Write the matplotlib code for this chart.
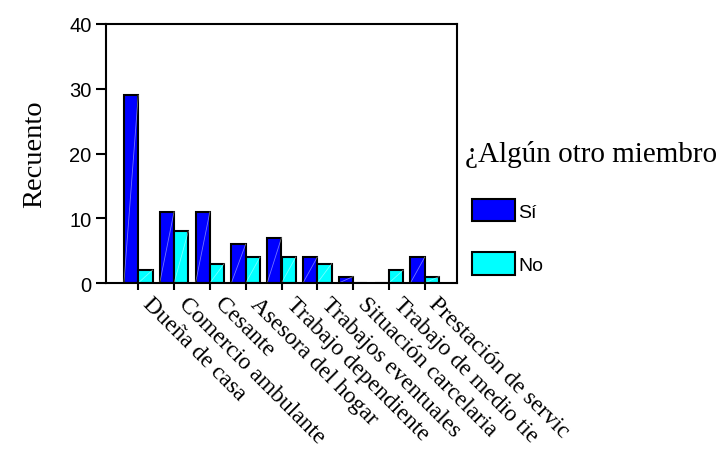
import matplotlib
matplotlib.use("Agg")
import matplotlib.pyplot as plt
import matplotlib.transforms as mtransforms
import numpy as np
from matplotlib.patches import Patch

categories = ["Dueña de casa", "Comercio ambulante", "Cesante", "Asesora del hogar",
              "Trabajo dependiente", "Trabajos eventuales", "Situación carcelaria",
              "Trabajo de medio tie", "Prestación de servic"]
si_values = [29, 11, 11, 6, 7, 4, 1, 0, 4]
no_values = [2, 8, 3, 4, 4, 3, 0, 2, 1]
series_labels = ["Sí", "No"]
yticks = [0, 10, 20, 30, 40]
legend_title = "¿Algún otro miembro"
ylabel = "Recuento"

SERIF = "Liberation Serif"
SANS = "Liberation Sans"
c_si = "#0000ff"
c_no = "#00ffff"

fig = plt.figure(figsize=(7.2, 4.56), dpi=100)
ax = fig.add_axes([106/720, 1-284/456, (457-106)/720, (284-25)/456])

x = np.arange(len(categories))
w = 0.4
b1 = ax.bar(x - w/2, si_values, width=w, color=c_si, edgecolor="black", linewidth=1.5)
b2 = ax.bar(x + w/2, no_values, width=w, color=c_no, edgecolor="black", linewidth=1.5)
# faint diagonal sheen inside each bar (as in the original rendering)
for rect in list(b1) + list(b2):
    h = rect.get_height()
    if h > 0:
        x0 = rect.get_x()
        ax.plot([x0, x0 + rect.get_width()], [0, h], color="white",
                lw=0.6, alpha=0.45, zorder=rect.get_zorder() + 0.1)

ax.set_xlim(-0.9, 8.9)
ax.set_ylim(0, 40)
ax.tick_params(axis="y", direction="out", length=7.5, width=1.5, color="black", pad=3)
ax.tick_params(axis="x", direction="out", length=5, width=1.5, color="black", pad=2)
ax.set_yticks(yticks)
ax.set_yticklabels([str(v) for v in yticks], fontfamily=SANS, fontsize=14.5)
ax.set_xticks(x)
ax.set_xticklabels(categories, rotation=-45, ha="left", va="top",
                   rotation_mode="anchor", fontfamily=SERIF, fontsize=17)
offset = mtransforms.ScaledTranslation(15/100, 0, fig.dpi_scale_trans)
for lbl in ax.get_xticklabels():
    lbl.set_transform(lbl.get_transform() + offset)
for s in ax.spines.values():
    s.set_linewidth(1.5)
ax.set_ylabel(ylabel, fontfamily=SERIF, fontsize=20.5, labelpad=16)

fig.text(465/720, 1-155/456, legend_title, fontfamily=SERIF, fontsize=21,
         ha="left", va="center")
handles = [Patch(facecolor=c_si, edgecolor="black", linewidth=1.5),
           Patch(facecolor=c_no, edgecolor="black", linewidth=1.5)]
fs = 14
leg = fig.legend(handles, series_labels, loc="upper left",
                 bbox_to_anchor=(472/720, 1-200/456), bbox_transform=fig.transFigure,
                 frameon=False, borderpad=0, borderaxespad=0,
                 handlelength=43/(fs*100/72), handleheight=27/(fs*100/72),
                 handletextpad=0.15, labelspacing=1.6,
                 prop={"family": SANS, "size": fs})

fig.savefig("out.png", dpi=100)
